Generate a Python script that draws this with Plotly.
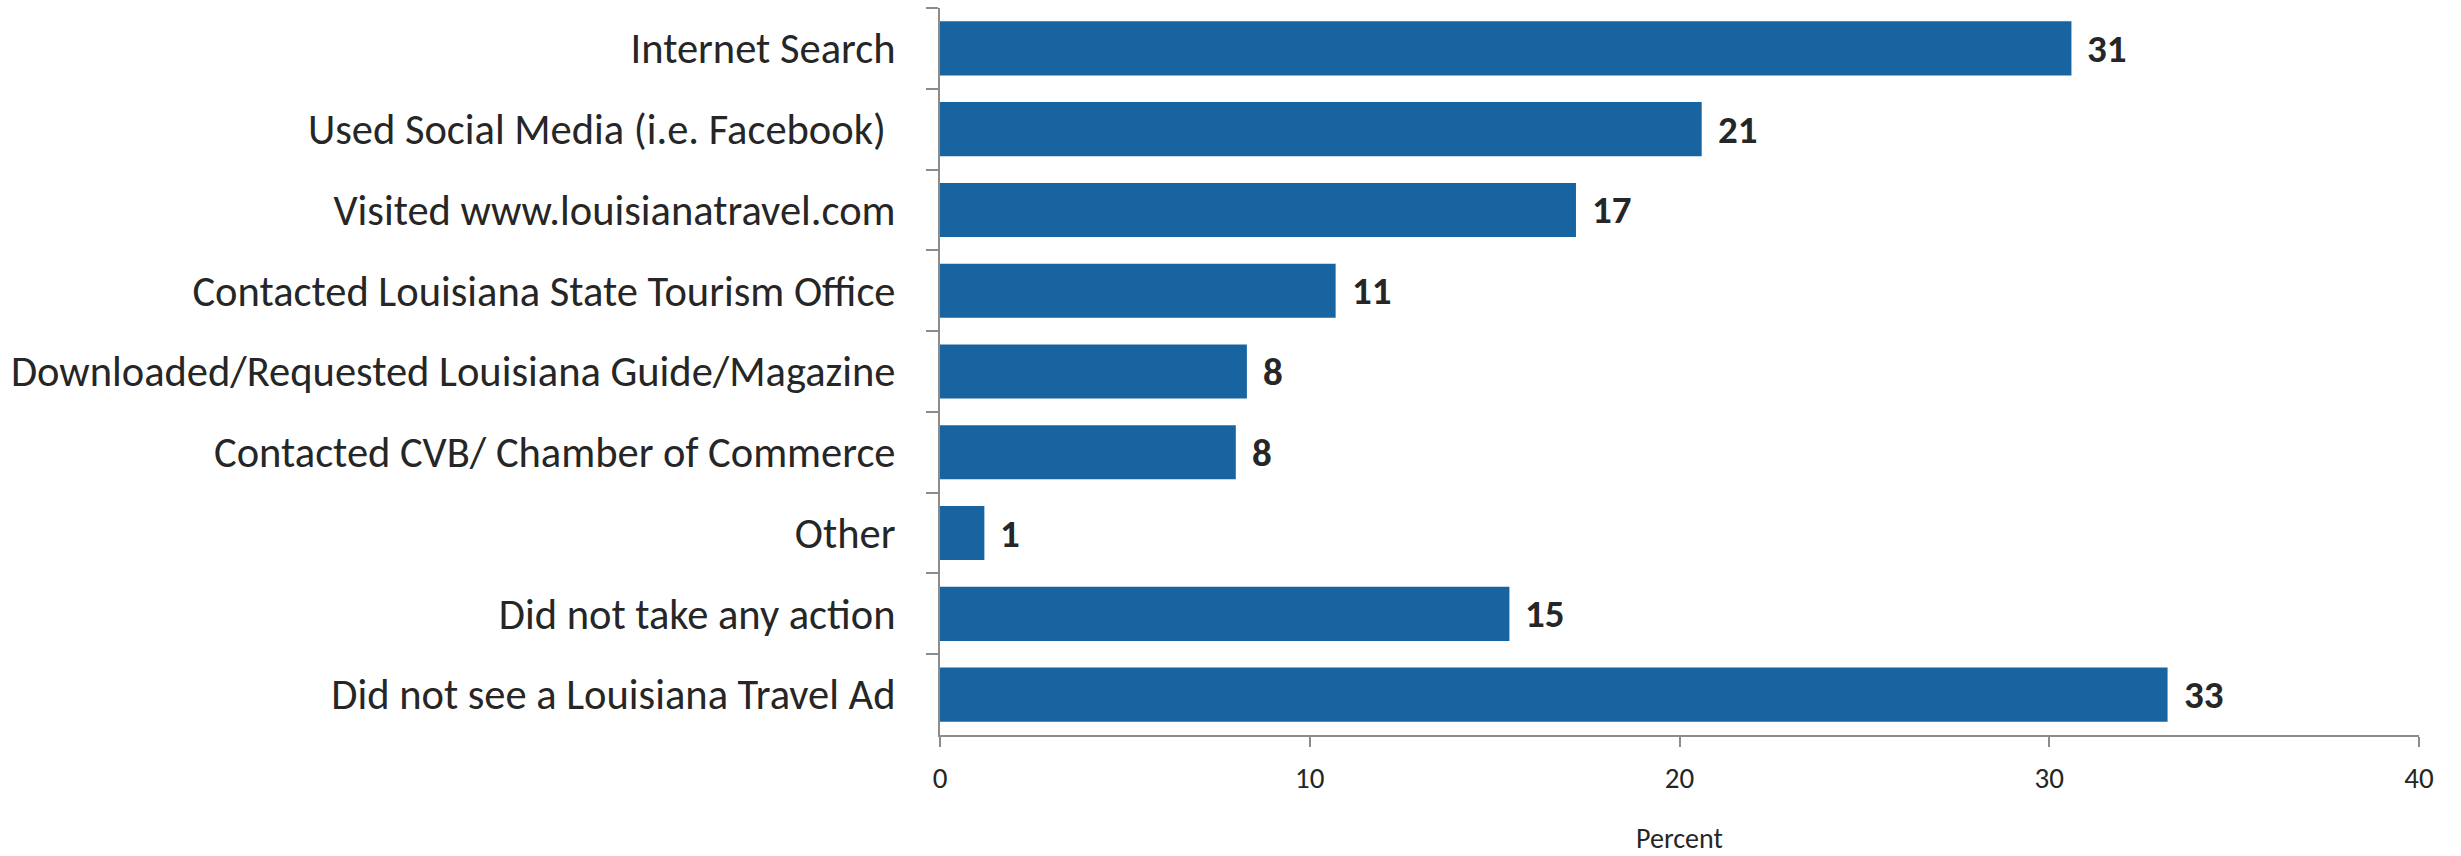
import plotly.graph_objects as go

# Responses to Louisiana travel advertising (percent of respondents)
categories = [
    "Internet Search",
    "Used Social Media (i.e. Facebook) ",
    "Visited www.louisianatravel.com",
    "Contacted Louisiana State Tourism Office",
    "Downloaded/Requested Louisiana Guide/Magazine",
    "Contacted CVB/ Chamber of Commerce",
    "Other",
    "Did not take any action",
    "Did not see a Louisiana Travel Ad",
]
percent = [30.6, 20.6, 17.2, 10.7, 8.3, 8.0, 1.2, 15.4, 33.2]
x_ticks = [0, 10, 20, 30, 40]

BAR = "#1764a0"
TEXT = "#262626"
AXIS = "#8c8c8c"
FONT = "Carlito, Lato, sans-serif"

fig = go.Figure(
    go.Bar(
        x=percent,
        y=categories,
        orientation="h",
        marker=dict(color=BAR, line=dict(width=0)),
        width=0.67,
        hoverinfo="x+y",
    )
)

# value labels just right of each bar end
for cat, val in zip(categories, percent):
    fig.add_annotation(
        x=val, y=cat, text=f"<b>{val:.0f}</b>",
        xanchor="left", yanchor="middle", xshift=14, showarrow=False,
        font=dict(family=FONT, size=39, color=TEXT),
    )

fig.update_layout(
    width=2461,
    height=856,
    margin=dict(l=940, r=42, t=8, b=121),
    paper_bgcolor="white",
    plot_bgcolor="white",
    showlegend=False,
    font=dict(family=FONT, color=TEXT),
)

fig.update_xaxes(
    range=[0, 40],
    tickvals=x_ticks,
    ticktext=[str(t) for t in x_ticks],
    ticks="outside",
    ticklen=10,
    tickwidth=1.5,
    tickcolor=AXIS,
    showline=True,
    linecolor=AXIS,
    linewidth=2,
    showgrid=False,
    zeroline=False,
    tickfont=dict(family=FONT, size=29, color=TEXT),
    ticklabelstandoff=6,
    title=dict(text="Percent", font=dict(family=FONT, size=28, color=TEXT), standoff=38),
    automargin=False,
)

fig.update_yaxes(
    categoryorder="array",
    categoryarray=categories,
    autorange="reversed",
    tickson="boundaries",
    ticks="outside",
    ticklen=12,
    tickwidth=1.5,
    tickcolor=AXIS,
    showline=True,
    linecolor=AXIS,
    linewidth=2,
    showgrid=False,
    zeroline=False,
    tickfont=dict(family=FONT, size=42.5, color=TEXT),
    ticklabelstandoff=34,
    automargin=False,
)

fig.write_html("out.html")
